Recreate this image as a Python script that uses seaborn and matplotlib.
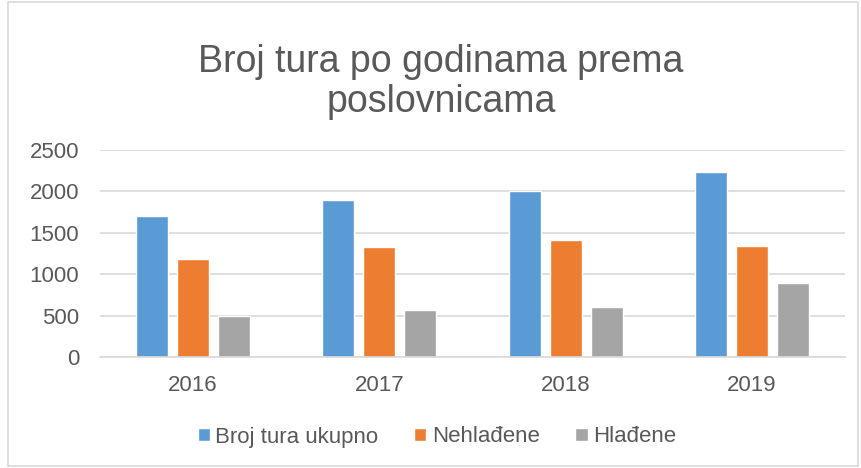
import matplotlib
matplotlib.use("Agg")
import matplotlib.pyplot as plt
import seaborn as sns
import pandas as pd
from matplotlib.patches import Rectangle

years = ["2016", "2017", "2018", "2019"]
series = ["Broj tura ukupno", "Nehlađene", "Hlađene"]
ukupno = [1700, 1900, 2010, 2240]
nehladjene = [1180, 1330, 1410, 1340]
hladjene = [500, 565, 600, 890]
yticks = [0, 500, 1000, 1500, 2000, 2500]

rows = []
for name, vals in zip(series, [ukupno, nehladjene, hladjene]):
    for y, v in zip(years, vals):
        rows.append({"year": y, "value": v, "series": name})
df = pd.DataFrame(rows)

sns.set_theme(style="white")
plt.rcParams["font.family"] = ["Liberation Sans", "DejaVu Sans"]
text_color = "#595959"
grid_color = "#d9d9d9"

fig = plt.figure(figsize=(8.62, 4.68), dpi=100)
ax = fig.add_axes([100/862, 1-357/468, 745/862, 207/468])
sns.barplot(data=df, x="year", y="value", hue="series",
            palette=["#5B9BD5", "#ED7D31", "#A5A5A5"],
            width=0.66, gap=0.22, ax=ax, legend=True, saturation=1)
ax.set_ylim(0, 2500)
ax.set_yticks(yticks)
ax.set_yticklabels([str(t) for t in yticks])
ax.set_xlabel("")
ax.set_ylabel("")
ax.grid(axis="y", color=grid_color, lw=1.2)
ax.set_axisbelow(True)
for s in ["top", "right", "left"]:
    ax.spines[s].set_visible(False)
ax.spines["bottom"].set_color(grid_color)
ax.spines["bottom"].set_linewidth(1.2)
ax.tick_params(axis="both", length=0, labelsize=16, colors=text_color)
ax.tick_params(axis="y", pad=15)
ax.tick_params(axis="x", pad=13)

leg = ax.legend(loc="center", bbox_to_anchor=(437/862, 1-437/468),
                bbox_transform=fig.transFigure, ncol=3, frameon=False,
                fontsize=16, handlelength=0.55, handleheight=0.55,
                handletextpad=0.25, columnspacing=1.6, labelcolor=text_color)

fig.text(441/862, 1-82/468, "Broj tura po godinama prema\nposlovnicama",
         ha="center", va="center", fontsize=27, color=text_color,
         linespacing=1.12)

fig.patches.append(Rectangle((8/862, 2/468), 850/862, 464/468,
                             transform=fig.transFigure, fill=False,
                             edgecolor=grid_color, lw=1.2))

fig.savefig("out.png", dpi=100)
